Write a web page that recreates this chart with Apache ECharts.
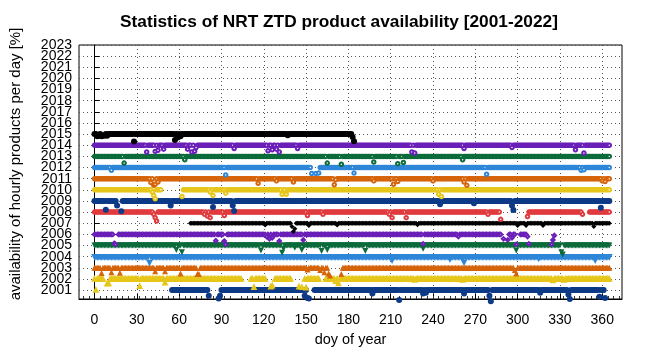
<!DOCTYPE html>
<html>
<head>
<meta charset="utf-8">
<script src="https://cdn.jsdelivr.net/npm/echarts@6/dist/echarts.min.js"></script>
<style>
html, body { margin: 0; padding: 0; background: #fff; }
#main { width: 647px; height: 352px; }
</style>
</head>
<body>
<div id="main"></div>
<script>
// tick labels
var dayTicks = [0, 30, 60, 90, 120, 150, 180, 210, 240, 270, 300, 330, 360];
var yearTicks = [2001, 2002, 2003, 2004, 2005, 2006, 2007, 2008, 2009, 2010, 2011, 2012,
                 2013, 2014, 2015, 2016, 2017, 2018, 2019, 2020, 2021, 2022, 2023];

var years = [2001, 2002, 2003, 2004, 2005, 2006, 2007, 2008, 2009, 2010, 2011, 2012, 2013, 2014, 2015];

// day ranges with 100% availability
var runs = {
    2001: [[55, 81], [90, 152], [156, 361]],
    2002: [[0, 6], [11, 104], [111, 121], [128, 139], [149, 159], [164, 365]],
    2003: [[0, 72], [75, 167], [176, 365]],
    2004: [[0, 365]],
    2005: [[0, 365]],
    2006: [[0, 13], [17, 288], [294, 298], [302, 308]],
    2007: [[68, 365]],
    2008: [[0, 288], [307, 346], [351, 365]],
    2009: [[0, 15], [19, 365]],
    2010: [[0, 47], [63, 365]],
    2011: [[0, 365]],
    2012: [[0, 153], [160, 365]],
    2013: [[0, 365]],
    2014: [[0, 365]],
    2015: [[0, 184]]
};

// days below 100%: [doy, availability %]
var dips = {
    2001: [[81, 50], [88, 25], [89, 50], [149, 50], [151, 30], [152, 25], [197, 70], [216, 10],
           [233, 70], [235, 75], [262, 70], [280, 50], [281, 0], [316, 75], [336, 60], [337, 20],
           [358, 40], [362, 30]],
    2002: [[1, 0], [9, 56], [10, 60], [32, 35], [50, 65], [113, 25], [125, 30], [126, 40],
           [145, 30], [147, 25], [150, 20], [171, 80], [173, 60], [227, 90], [261, 90], [325, 85], [333, 90]],
    2003: [[5, 53], [12, 60], [18, 55], [43, 70], [50, 70], [61, 50], [73, 44], [74, 44],
           [151, 85], [160, 80], [163, 60], [166, 50], [167, 30], [175, 44], [298, 80], [299, 50]],
    2004: [[39, 47], [211, 70], [252, 80], [261, 80], [262, 50], [315, 85], [355, 70]],
    2005: [[58, 60], [62, 40], [118, 55], [133, 35], [134, 70], [142, 80], [147, 60], [161, 50],
           [165, 60], [192, 50], [233, 70], [299, 55], [331, 40], [332, 20]],
    2006: [[14, 20], [15, 10], [86, 43], [92, 40], [93, 10], [122, 80], [124, 60], [126, 70],
           [131, 40], [148, 50], [233, 15], [258, 80], [290, 60], [293, 50], [296, 70], [299, 10],
           [307, 80], [308, 15], [324, 10], [325, 50], [326, 90]],
    2007: [[121, 85], [140, 70], [141, 26], [142, 50], [152, 80], [172, 85], [229, 87], [300, 80],
           [306, 80], [318, 80], [354, 70]],
    2008: [[42, 80], [43, 50], [44, 20], [78, 80], [80, 65], [82, 50], [92, 70], [151, 70],
           [162, 80], [209, 80], [211, 50], [221, 50], [279, 80], [288, 35], [307, 60], [346, 80]],
    2009: [[8, 22], [16, 60], [19, 8], [54, 60], [84, 46], [98, 60], [99, 10], [245, 70],
           [269, 80], [296, 60], [297, 20], [359, 40]],
    2010: [[41, 80], [42, 50], [43, 20], [62, 40], [82, 80], [84, 50], [93, 70], [133, 60],
           [136, 60], [244, 60], [246, 40]],
    2011: [[40, 65], [42, 40], [43, 50], [45, 70], [116, 58], [129, 80], [141, 70], [170, 46],
           [171, 90], [198, 80], [212, 50], [215, 75], [240, 80], [262, 70], [264, 40], [360, 80], [362, 75]],
    2012: [[12, 75], [93, 34], [154, 46], [157, 46], [159, 50], [184, 50], [278, 40], [345, 75], [347, 80]],
    2013: [[21, 40], [64, 70], [165, 40], [175, 30], [198, 50], [215, 35], [219, 45], [261, 70]],
    2014: [[37, 40], [43, 45], [45, 55], [49, 65], [66, 65], [69, 40], [71, 46], [72, 80], [99, 70],
           [123, 50], [126, 60], [129, 65], [131, 40], [144, 70], [225, 40], [227, 30], [262, 70],
           [296, 80], [341, 60], [347, 30]],
    2015: [[2, 82], [3, 85], [5, 80], [6, 88], [7, 85], [9, 85], [28, 34], [57, 48], [59, 70],
           [61, 80], [137, 90], [183, 75], [184, 37]]
};

var colors = {
    2001: '#0d3a87', 2002: '#e6c619', 2003: '#d6640a', 2004: '#2e86d8', 2005: '#0b6b3a',
    2006: '#6a1fb8', 2007: '#000000', 2008: '#e03a3e', 2009: '#0d3a87', 2010: '#e6c619',
    2011: '#d6640a', 2012: '#2e86d8', 2013: '#0b6b3a', 2014: '#6a1fb8', 2015: '#000000'
};
var symbols = {
    2001: 'circle', 2002: 'emptyTriangle', 2003: 'triangle', 2004: 'emptyTriangle', 2005: 'triangle',
    2006: 'emptyDiamond', 2007: 'diamond', 2008: 'emptyCircle', 2009: 'circle', 2010: 'emptyCircle',
    2011: 'emptyCircle', 2012: 'emptyCircle', 2013: 'emptyCircle', 2014: 'emptyCircle', 2015: 'circle'
};
var rotated = { 2004: 180, 2005: 180 };

// year band: top of band = 100 %, one year below = 0 %
function bandData(year) {
    var low = {};
    dips[year].forEach(function (d) { low[d[0]] = true; });
    var pts = [];
    runs[year].forEach(function (r) {
        for (var d = r[0]; d <= r[1]; d++) {
            if (!low[d]) pts.push([d, year]);
        }
    });
    dips[year].forEach(function (d) { pts.push([d[0], year - 1 + d[1] / 100]); });
    return pts;
}

// the labels are packed tighter than their boxes: echarts drops the first/last one when
// it overlaps its neighbour, so a duplicate is put at both ends to be the one dropped
var yearLabelValues = [yearTicks[0]].concat(yearTicks, [yearTicks[yearTicks.length - 1]]);

var font = 'Liberation Sans';
var gridLine = { show: true, lineStyle: { color: '#555', type: [1, 3], width: 1 } };

var myChart = echarts.init(document.getElementById('main'));
var option = {
    animation: false,
    title: {
        text: 'Statistics of NRT ZTD product availability [2001-2022]',
        left: 115,
        top: 9,
        textStyle: { fontFamily: font, fontSize: 17.3, fontWeight: 'bold', color: '#000' }
    },
    grid: {
        left: 76, right: 25, top: 45, bottom: 47.5,
        show: true, borderColor: '#000', borderWidth: 1
    },
    xAxis: [{
        type: 'value',
        min: -11,
        max: 374,
        name: 'doy of year',
        nameLocation: 'middle',
        nameGap: 33,
        nameTextStyle: { fontFamily: font, fontSize: 14.5, color: '#000' },
        axisLine: { show: true, lineStyle: { color: '#000' } },
        axisTick: { inside: true, length: 5, customValues: dayTicks, lineStyle: { color: '#000' } },
        minorTick: { show: true, splitNumber: 25, length: 3, lineStyle: { color: '#333' } },
        axisLabel: { customValues: dayTicks, fontFamily: font, fontSize: 14, color: '#000', margin: 14 },
        splitLine: gridLine
    }],
    yAxis: [{
        type: 'value',
        min: 2000.2,
        max: 2023,
        name: 'availability of hourly products per day [%]',
        nameLocation: 'middle',
        nameGap: 56,
        nameTextStyle: { fontFamily: font, fontSize: 15, color: '#000', padding: [0, 0, 0, 16] },
        axisLine: { show: true, lineStyle: { color: '#000' } },
        axisTick: { inside: true, length: 5, customValues: yearTicks, lineStyle: { color: '#000' } },
        axisLabel: {
            customValues: yearLabelValues, fontFamily: font, fontSize: 14, color: '#000', margin: 7,
            lineHeight: 9, hideOverlap: false,
            formatter: function (v) { return String(v); }
        },
        splitLine: gridLine
    }],
    series: years.map(function (y) {
        var empty = symbols[y].indexOf('empty') === 0;
        var size = empty ? 3.5 : (symbols[y] === 'diamond' ? 5 : 6);
        return {
            name: String(y),
            type: 'scatter',
            clip: false,
            symbol: symbols[y],
            symbolSize: size,
            symbolRotate: rotated[y] || 0,
            itemStyle: { color: colors[y], opacity: 1 },
            data: bandData(y)
        };
    })
};
myChart.setOption(option);
</script>
</body>
</html>
